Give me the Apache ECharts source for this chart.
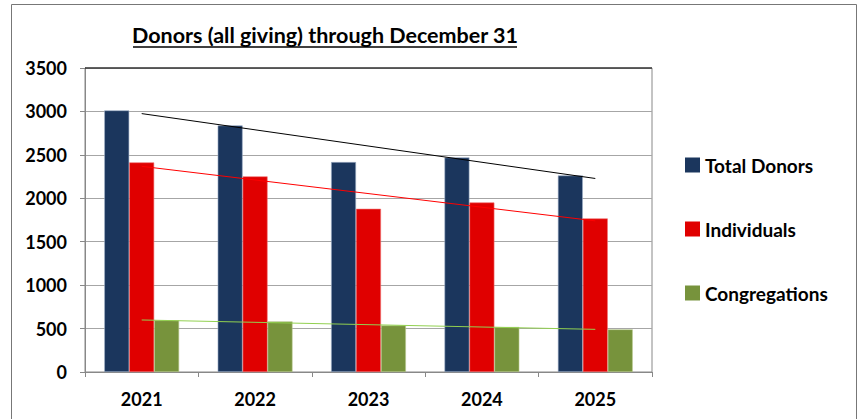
<!DOCTYPE html>
<html><head><meta charset="utf-8">
<script src="https://cdn.jsdelivr.net/npm/echarts@6/dist/echarts.min.js"></script>
<style>html,body{margin:0;padding:0;background:#fff}#c{width:861px;height:419px}</style>
</head><body><div id="c"></div>
<script>
const categories = ['2021','2022','2023','2024','2025'];
const totalDonors = [3012, 2839, 2417, 2470, 2263];
const individuals = [2413, 2252, 1879, 1952, 1768];
const congregations = [595, 583, 537, 518, 491];
// trendline endpoints (first and last year)
const totalTrend = [2975, 2228];
const individualsTrend = [2368, 1740];
const congregationsTrend = [599, 491];
const yTicks = [0, 500, 1000, 1500, 2000, 2500, 3000, 3500];

function ends(arr){ const d = categories.map(()=>null); d[0]=arr[0]; d[categories.length-1]=arr[1]; return d; }

const FONT = 'Lato';
const chart = echarts.init(document.getElementById('c'), null, {renderer:'svg'});
chart.setOption({
  animation:false,
  textStyle:{fontFamily:FONT},
  grid:{left:85, right:209, top:68, bottom:47, show:true, borderColor:'#888', borderWidth:1, backgroundColor:'transparent'},
  legend:{
    orient:'vertical', left:680, top:150, itemGap:44, itemWidth:15, itemHeight:15,
    icon:'rect',
    itemStyle:{borderWidth:0},
    textStyle:{fontFamily:FONT, fontWeight:'bold', fontSize:19, lineHeight:20, color:'#000'},
    data:['Total Donors','Individuals','Congregations']
  },
  xAxis:{
    type:'category', data:categories,
    axisLine:{lineStyle:{color:'#888'}},
    axisTick:{show:true, length:5, lineStyle:{color:'#888'}},
    axisLabel:{fontFamily:FONT, fontWeight:'bold', fontSize:18, color:'#000', margin:18}
  },
  yAxis:{
    type:'value', min:yTicks[0], max:yTicks[yTicks.length-1], interval:500,
    axisLine:{show:true, lineStyle:{color:'#888'}},
    axisTick:{show:true, length:5, lineStyle:{color:'#888'}},
    splitLine:{lineStyle:{color:'#a6a6a6', width:1}},
    axisLabel:{fontFamily:FONT, fontWeight:'bold', fontSize:18, color:'#000', margin:18,
      formatter:function(v){return String(v);}}
  },
  series:[
    {name:'Total Donors', type:'bar', data:totalDonors, barGap:'0%', barCategoryGap:'34%',
     itemStyle:{color:'#1b365d', borderColor:'#9fb0c8', borderWidth:0.6}},
    {name:'Individuals', type:'bar', data:individuals,
     itemStyle:{color:'#e00000', borderColor:'#f07070', borderWidth:0.6}},
    {name:'Congregations', type:'bar', data:congregations,
     itemStyle:{color:'#77933c', borderColor:'#b8c990', borderWidth:0.6}},
    {name:'tTotal', type:'line', data:ends(totalTrend), connectNulls:true, symbol:'none',
     lineStyle:{color:'#000', width:1}, z:5},
    {name:'tInd', type:'line', data:ends(individualsTrend), connectNulls:true, symbol:'none',
     lineStyle:{color:'#ff0000', width:1}, z:5},
    {name:'tCong', type:'line', data:ends(congregationsTrend), connectNulls:true, symbol:'none',
     lineStyle:{color:'#92d050', width:1}, z:5}
  ],
  graphic:[
    {type:'rect', shape:{x:11.5, y:4.5, width:845, height:420}, style:{fill:'none', stroke:'#777', lineWidth:1}, silent:true},
    {type:'line', shape:{x1:85, y1:68, x2:652, y2:68}, style:{stroke:'#000', lineWidth:1}, z:10},
    {type:'text', x:325, y:35, style:{text:'Donors (all giving) through December 31', fontFamily:FONT, fontWeight:'bold', fontSize:21.5, fill:'#000', textAlign:'center', textVerticalAlign:'middle'}},
    {type:'line', shape:{x1:133, y1:47, x2:517, y2:47}, style:{stroke:'#000', lineWidth:1.5}}
  ]
});
</script></body></html>
